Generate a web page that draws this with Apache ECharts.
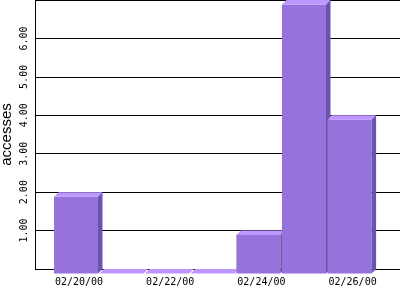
<!DOCTYPE html>
<html>
<head>
<meta charset="utf-8">
<script src="https://cdn.jsdelivr.net/npm/echarts@6/dist/echarts.min.js"></script>
<style>html,body{margin:0;padding:0;background:#fff}#c{width:400px;height:300px}</style>
</head>
<body>
<div id="c"></div>
<script>
const categories = ['02/20/00','02/21/00','02/22/00','02/23/00','02/24/00','02/25/00','02/26/00'];
const accesses = [2, 0, 0, 0, 1, 7, 4];
const yTickLabels = ['', '1.00', '2.00', '3.00', '4.00', '5.00', '6.00', ''];
const yAxisName = 'accesses';

const DEPTH = 4.5;
const FRONT = '#9673DC', TOP = '#BE96FF', SIDE = '#6B55AA';

const chart = echarts.init(document.getElementById('c'), null, {renderer: 'canvas'});
chart.setOption({
  animation: false,
  backgroundColor: '#fff',
  grid: [
    {left: 35, right: 0, top: 0, bottom: 31, containLabel: false, outerBoundsMode: 'none'},
    {left: 56.2, right: 24.6, top: 0, bottom: 31, containLabel: false, outerBoundsMode: 'none'}
  ],
  xAxis: [
    {gridIndex: 0, type: 'value', min: 0, max: 1, show: false},
    {gridIndex: 1, type: 'category', data: categories, boundaryGap: true,
     axisLine: {show: false}, axisTick: {show: false}, splitLine: {show: false},
     axisLabel: {interval: 1, margin: 8, color: '#000', fontFamily: 'DejaVu Sans Mono', fontSize: 10}}
  ],
  yAxis: [
    {gridIndex: 0, type: 'value', min: 0, max: 7, interval: 1,
     axisLine: {show: true, lineStyle: {color: '#000', width: 1}},
     axisTick: {show: false},
     splitLine: {show: true, lineStyle: {color: '#000', width: 1}},
     axisLabel: {rotate: 90, margin: 6, color: '#000', fontFamily: 'DejaVu Sans Mono', fontSize: 10,
       formatter: v => yTickLabels[Math.round(v)] || ''},
     name: yAxisName, nameLocation: 'middle', nameRotate: 90, nameGap: 21, nameMoveOverlap: false,
     nameTextStyle: {color: '#000', fontFamily: 'Liberation Sans', fontSize: 15}},
    {gridIndex: 1, type: 'value', min: 0, max: 7, interval: 1, show: false, splitLine: {show: false}}
  ],
  series: [{
    type: 'custom',
    xAxisIndex: 1, yAxisIndex: 1,
    clip: false,
    data: accesses.map((v, i) => [i, v]),
    renderItem: function (params, api) {
      const i = api.value(0), v = api.value(1);
      const base = api.coord([i, 0]);
      const top = api.coord([i, v]);
      const bw = api.size([1, 0])[0];
      const d = DEPTH;
      const bl = base[0] - bw * 0.45;
      const br = base[0] + bw * 0.515;
      const ty = top[1], by = base[1];
      return {
        type: 'group',
        children: [
          {type: 'rect', shape: {x: bl - d, y: ty + d, width: br - bl, height: Math.max(by - ty, 0)},
           style: {fill: FRONT}},
          {type: 'polygon', shape: {points: [[bl - d, ty + d], [br - d, ty + d], [br, ty], [bl, ty]]},
           style: {fill: TOP}},
          {type: 'polygon', shape: {points: [[br - d, ty + d], [br, ty], [br, by], [br - d, by + d]]},
           style: {fill: SIDE}}
        ]
      };
    }
  }]
});
</script>
</body>
</html>
